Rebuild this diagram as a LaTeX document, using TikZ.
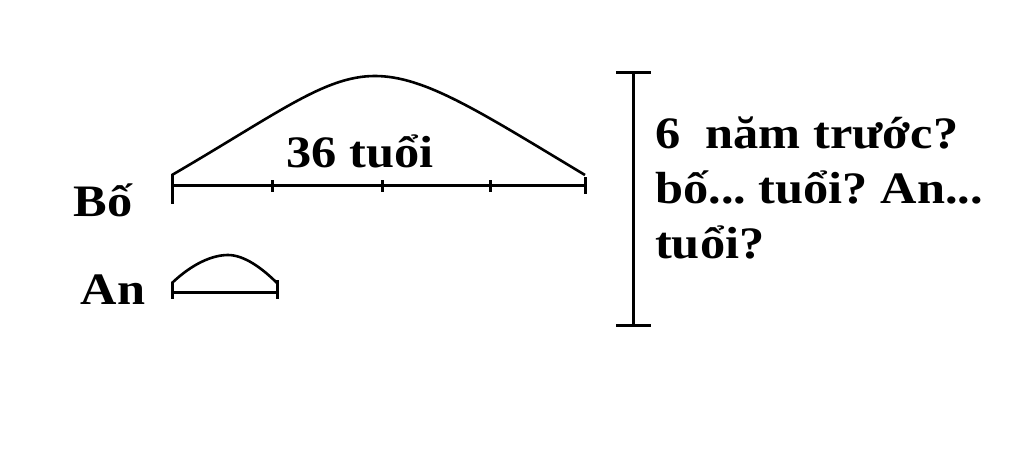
\documentclass[tikz,border=0pt]{standalone}
\usepackage{fontspec}
\setmainfont[FakeStretch=1.12]{Liberation Serif}
\frenchspacing
\begin{document}
\begin{tikzpicture}[x=1pt,y=-1pt,
  lbl/.style={font=\fontsize{45}{55}\selectfont\bfseries, inner sep=0pt},
  seg/.style={line width=3pt},
  hump/.style={line width=2.6pt}]
\useasboundingbox (0,0) rectangle (1024,468);
% Bo segment
\coordinate (b0) at (172,185);
\coordinate (b1) at (585,185);
\draw[seg] (b0) -- (b1);
\draw[seg] (172,174) -- (172,204);
\foreach \x in {272,382,490} \draw[seg] (\x,180) -- (\x,192);
\draw[seg] (585,177) -- (585,194);
\draw[hump] (172,175) .. controls (280,112) and (325,76) .. (375,76)
   .. controls (425,76) and (480,112) .. (585,175);
\node[lbl] (age) at (360,151) {36 tuổi};
\node[lbl] (bo) at (103,200) {Bố};
% An segment
\coordinate (a0) at (172,292);
\coordinate (a1) at (277,292);
\draw[seg] (a0) -- (a1);
\draw[seg] (172,282) -- (172,299);
\draw[seg] (277,280) -- (277,299);
\draw[hump] (172,283) .. controls (192,264) and (212,255) .. (228,255)
   .. controls (244,255) and (262,268) .. (277,283);
\node[lbl] (an) at (113,290) {An};
% bracket
\coordinate (t) at (633,73);
\coordinate (u) at (633,325);
\draw[seg] (t) -- (u);
\draw[seg] (616,73) -- (651,73);
\draw[seg] (616,325) -- (651,325);
\node[lbl, anchor=north west, align=left] (q) at (655,117)
  {6\ \ năm trước?\\bố... tuổi? An...\\tuổi?};
\end{tikzpicture}
\end{document}
